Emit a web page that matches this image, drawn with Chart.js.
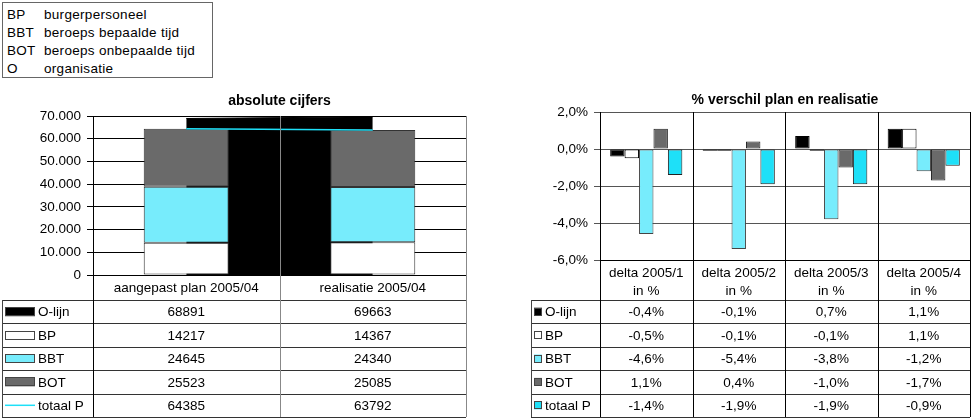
<!DOCTYPE html>
<html>
<head>
<meta charset="utf-8">
<script src="https://cdn.jsdelivr.net/npm/chart.js@4.4.1/dist/chart.umd.min.js"></script>
<style>
  body { margin: 0; background: #fff; width: 972px; height: 419px; overflow: hidden; position: relative;
         font-family: "Liberation Sans", Arial, sans-serif; }
  #legend { position: absolute; left: 2px; top: 2px; width: 209px; height: 74px; border: 1px solid #666;
            font-size: 13.5px; color: #000; }
  #legend .row { position: absolute; left: 4px; height: 18px; line-height: 18px; white-space: nowrap; letter-spacing: 0.3px; }
  #legend .row span { position: absolute; left: 37px; }
  canvas { position: absolute; top: 0; }
  #absChart { left: 0; }
  #deltaChart { left: 485px; }
</style>
</head>
<body>
<div id="legend"></div>
<canvas id="absChart" width="485" height="419"></canvas>
<canvas id="deltaChart" width="487" height="419"></canvas>
<script>
// abbreviations box
const abbrevs = ['BP', 'BBT', 'BOT', 'O'];
const abbrevTexts = ['burgerpersoneel', 'beroeps bepaalde tijd', 'beroeps onbepaalde tijd', 'organisatie'];

// left chart: absolute numbers
const absCategories = ['aangepast plan 2005/04', 'realisatie 2005/04'];
const absOLijn = [68891, 69663];
const absBP = [14217, 14367];
const absBBT = [24645, 24340];
const absBOT = [25523, 25085];
const absTotaalP = [64385, 63792];
const absTicks = [0, 10000, 20000, 30000, 40000, 50000, 60000, 70000];

// right chart: % difference
const deltaCategories = [['delta 2005/1', 'in %'], ['delta 2005/2', 'in %'], ['delta 2005/3', 'in %'], ['delta 2005/4', 'in %']];
const deltaOLijn = [-0.4, -0.1, 0.7, 1.1];
const deltaBP = [-0.5, -0.1, -0.1, 1.1];
const deltaBBT = [-4.6, -5.4, -3.8, -1.2];
const deltaBOT = [1.1, 0.4, -1.0, -1.7];
const deltaTotaalP = [-1.4, -1.9, -1.9, -0.9];
const deltaTicks = [-6, -4, -2, 0, 2];

const seriesNames = ['O-lijn', 'BP', 'BBT', 'BOT', 'totaal P'];

const BLACK = '#000000', WHITE = '#ffffff', LIGHTCYAN = '#77ecfc', GREY = '#6a6a6a', CYAN = '#1ee0f8';
const FONT = '"Liberation Sans", Arial, sans-serif';

Chart.defaults.font.family = FONT;
Chart.defaults.font.size = 13.5;
Chart.defaults.color = '#000';

// abbreviations box
const legendEl = document.getElementById('legend');
abbrevs.forEach((a, i) => {
  const row = document.createElement('div');
  row.className = 'row';
  row.style.top = (3 + i * 18) + 'px';
  row.textContent = a;
  const s = document.createElement('span');
  s.textContent = abbrevTexts[i];
  row.appendChild(s);
  legendEl.appendChild(row);
});

const fmtThousands = v => String(v).replace(/\B(?=(\d{3})+(?!\d))/g, '.');
const fmtPct = v => v.toFixed(1).replace('.', ',') + '%';

const ROW_TOP = 300, ROW_H = 23.4;

// draws title, category dividers and the data table under the chart
function tablePlugin(cfg) {
  return {
    id: 'dataTable',
    afterDraw(chart) {
      const ctx = chart.ctx, x = chart.scales.x, area = chart.chartArea;
      const n = chart.data.labels.length;
      const step = x.getPixelForValue(1) - x.getPixelForValue(0);
      const bounds = [];
      for (let i = 0; i < n; i++) bounds.push(x.getPixelForValue(i) - step / 2);
      bounds.push(x.getPixelForValue(n - 1) + step / 2);
      const bottom = ROW_TOP + ROW_H * cfg.rows.length;

      ctx.save();
      // title
      ctx.font = 'bold 14px ' + FONT;
      ctx.fillStyle = '#000';
      ctx.textAlign = 'center';
      ctx.textBaseline = 'middle';
      ctx.fillText(cfg.title, (area.left + area.right) / 2, cfg.titleY);

      // horizontal lines
      ctx.lineWidth = 1;
      ctx.strokeStyle = '#333';
      for (let r = 0; r <= cfg.rows.length; r++) {
        const y = Math.round(ROW_TOP + r * ROW_H) + 0.5;
        ctx.beginPath(); ctx.moveTo(cfg.legendLeft, y); ctx.lineTo(bounds[n], y); ctx.stroke();
      }
      // vertical lines
      bounds.forEach((bx, i) => {
        ctx.strokeStyle = (i === 0) ? '#000' : cfg.dividerColor;
        const xx = Math.round(bx) + 0.5;
        ctx.beginPath(); ctx.moveTo(xx, area.top); ctx.lineTo(xx, bottom); ctx.stroke();
      });
      ctx.strokeStyle = '#444';
      ctx.beginPath(); ctx.moveTo(cfg.legendLeft + 0.5, ROW_TOP); ctx.lineTo(cfg.legendLeft + 0.5, bottom); ctx.stroke();

      // rows
      ctx.font = '13.5px ' + FONT;
      cfg.rows.forEach((row, r) => {
        const cy = ROW_TOP + r * ROW_H + ROW_H / 2;
        const mx = cfg.legendLeft + 3;
        if (row.marker === 'line') {
          ctx.strokeStyle = row.color; ctx.lineWidth = 1.5;
          ctx.beginPath(); ctx.moveTo(mx, cy); ctx.lineTo(mx + cfg.markerW, cy); ctx.stroke();
          ctx.lineWidth = 1;
        } else {
          ctx.fillStyle = row.color;
          ctx.fillRect(mx, cy - cfg.markerH / 2, cfg.markerW, cfg.markerH);
          ctx.strokeStyle = '#444';
          ctx.strokeRect(mx + 0.5, Math.round(cy - cfg.markerH / 2) + 0.5, cfg.markerW - 1, cfg.markerH - 1);
        }
        ctx.fillStyle = '#000';
        ctx.textAlign = 'left';
        ctx.fillText(row.name, mx + cfg.markerW + 3, cy + 1);
        ctx.textAlign = 'center';
        row.values.forEach((v, i) => ctx.fillText(cfg.format(v), x.getPixelForValue(i), cy + 1));
      });
      ctx.restore();
    }
  };
}

// ---------- left chart ----------
new Chart(document.getElementById('absChart'), {
  data: {
    labels: absCategories,
    datasets: [
      { type: 'line', label: 'O-lijn', data: absOLijn, stack: 'o', order: 5, fill: 'origin',
        backgroundColor: BLACK, borderColor: BLACK, borderWidth: 1, pointRadius: 0, tension: 0 },
      { type: 'bar', label: 'BP', data: absBP, stack: 'p', order: 2, backgroundColor: WHITE, borderColor: '#333', borderWidth: 1, borderSkipped: false },
      { type: 'bar', label: 'BBT', data: absBBT, stack: 'p', order: 2, backgroundColor: LIGHTCYAN, borderColor: '#333', borderWidth: 1, borderSkipped: false },
      { type: 'bar', label: 'BOT', data: absBOT, stack: 'p', order: 2, backgroundColor: GREY, borderColor: '#333', borderWidth: 1, borderSkipped: false },
      { type: 'line', label: 'totaal P', data: absTotaalP, stack: 't', order: 0, fill: false,
        borderColor: CYAN, borderWidth: 1.5, pointRadius: 0, tension: 0 }
    ]
  },
  options: {
    responsive: false,
    animation: false,
    layout: { padding: { top: 116, right: 19, left: 0, bottom: 0 } },
    datasets: { bar: { barPercentage: 0.456, categoryPercentage: 1 } },
    plugins: { legend: { display: false }, tooltip: { enabled: false } },
    scales: {
      x: {
        stacked: true, offset: true,
        grid: { display: false, drawTicks: false },
        border: { display: true, color: '#000' },
        ticks: { padding: 5, maxRotation: 0, autoSkip: false },
        afterFit: s => { s.height = 419 - 275; }
      },
      y: {
        stacked: true, min: 0, max: 70000,
        afterBuildTicks: s => { s.ticks = absTicks.map(v => ({ value: v })); },
        ticks: { padding: 6, callback: v => fmtThousands(v) },
        grid: { color: '#000', tickColor: '#000', tickLength: 6 },
        border: { display: true, color: '#000' },
        afterFit: s => { s.width = 93; }
      }
    }
  },
  plugins: [tablePlugin({
    title: 'absolute cijfers', titleY: 101, legendLeft: 2, dividerColor: '#888',
    markerW: 30, markerH: 9, format: v => String(v),
    rows: [
      { name: seriesNames[0], values: absOLijn, color: BLACK },
      { name: seriesNames[1], values: absBP, color: WHITE },
      { name: seriesNames[2], values: absBBT, color: LIGHTCYAN },
      { name: seriesNames[3], values: absBOT, color: GREY },
      { name: seriesNames[4], values: absTotaalP, color: CYAN, marker: 'line' }
    ]
  })]
});

// ---------- right chart ----------
const deltaBar = (label, data, color, border) => ({
  type: 'bar', label, data, backgroundColor: color, borderColor: border, borderWidth: 1, borderSkipped: false
});

new Chart(document.getElementById('deltaChart'), {
  data: {
    labels: deltaCategories,
    datasets: [
      deltaBar('O-lijn', deltaOLijn, BLACK, '#000'),
      deltaBar('BP', deltaBP, WHITE, '#000'),
      deltaBar('BBT', deltaBBT, LIGHTCYAN, '#444'),
      deltaBar('BOT', deltaBOT, GREY, '#222'),
      deltaBar('totaal P', deltaTotaalP, CYAN, '#222')
    ]
  },
  options: {
    responsive: false,
    animation: false,
    layout: { padding: { top: 112, right: 2, left: 0, bottom: 0 } },
    datasets: { bar: { barPercentage: 1, categoryPercentage: 0.78 } },
    plugins: { legend: { display: false }, tooltip: { enabled: false } },
    scales: {
      x: {
        offset: true,
        grid: { display: false, drawTicks: false },
        border: { display: true, color: '#000' },
        ticks: { padding: 5, maxRotation: 0, autoSkip: false, font: { size: 13.5, lineHeight: 1.3 } },
        afterFit: s => { s.height = 419 - 260; }
      },
      y: {
        min: -6, max: 2,
        afterBuildTicks: s => { s.ticks = deltaTicks.map(v => ({ value: v })); },
        ticks: { padding: 6, callback: v => fmtPct(v) },
        grid: { color: '#555', tickColor: '#555', tickLength: 6 },
        border: { display: true, color: '#000' },
        afterFit: s => { s.width = 115; }
      }
    }
  },
  plugins: [tablePlugin({
    title: '% verschil plan en realisatie', titleY: 100, legendLeft: 46, dividerColor: '#000',
    markerW: 8, markerH: 8, format: fmtPct,
    rows: [
      { name: seriesNames[0], values: deltaOLijn, color: BLACK },
      { name: seriesNames[1], values: deltaBP, color: WHITE },
      { name: seriesNames[2], values: deltaBBT, color: LIGHTCYAN },
      { name: seriesNames[3], values: deltaBOT, color: GREY },
      { name: seriesNames[4], values: deltaTotaalP, color: CYAN }
    ]
  })]
});
</script>
</body>
</html>
